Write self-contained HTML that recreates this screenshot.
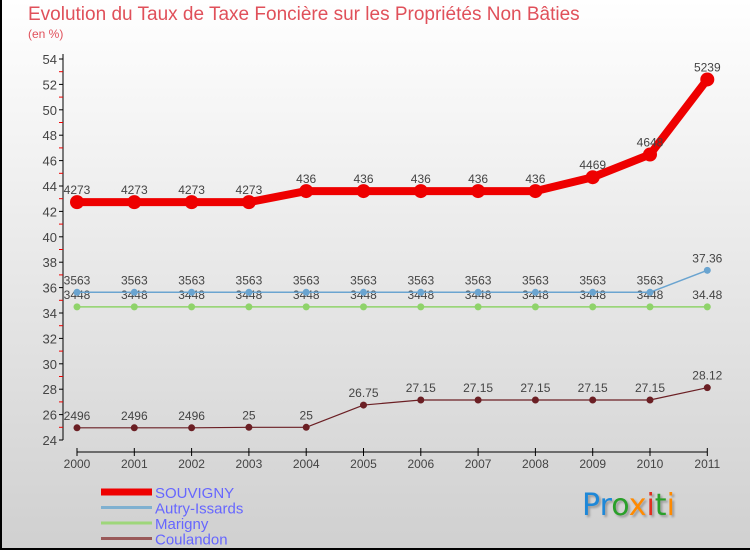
<!DOCTYPE html>
<html><head><meta charset="utf-8"><style>
body{margin:0}
#c{width:750px;height:550px;position:relative;background:linear-gradient(#ffffff,#d0d0d0);border-left:2px solid #000;border-bottom:2px solid #000;box-sizing:border-box;font-family:"Liberation Sans",sans-serif;overflow:hidden}
</style></head><body>
<div id="c">
<div style="position:absolute;left:26px;top:4px;font-size:19px;color:#e0505a">Evolution du Taux de Taxe Foncière sur les Propriétés Non Bâties</div>
<div style="position:absolute;left:26px;top:27px;font-size:12px;color:#e0505a">(en %)</div>
<svg id="s" width="750" height="550" style="position:absolute;left:-2px;top:0" font-family="Liberation Sans, sans-serif"></svg>
<div style="position:absolute;left:580px;top:488px;font-size:30px;font-family:'DejaVu Sans',sans-serif;text-shadow:2px 2px 2px #999"><span style="color:#1e88d8">Pr</span><span style="color:#2aa02a">o</span><span style="color:#ff8a00">x</span><span style="color:#e03020">i</span><span style="color:#2aa02a">t</span><span style="color:#ff8a00">i</span></div>
</div>
<script>
const years=["2000","2001","2002","2003","2004","2005","2006","2007","2008","2009","2010","2011"];
const souvigny=[42.73,42.73,42.73,42.73,43.6,43.6,43.6,43.6,43.6,44.69,46.48,52.39];
const souvignyLbl=["4273","4273","4273","4273","436","436","436","436","436","4469","4648","5239"];
const autry=[35.63,35.63,35.63,35.63,35.63,35.63,35.63,35.63,35.63,35.63,35.63,37.36];
const autryLbl=["3563","3563","3563","3563","3563","3563","3563","3563","3563","3563","3563","37.36"];
const marigny=[34.48,34.48,34.48,34.48,34.48,34.48,34.48,34.48,34.48,34.48,34.48,34.48];
const marignyLbl=["3448","3448","3448","3448","3448","3448","3448","3448","3448","3448","3448","34.48"];
const coulandon=[24.96,24.96,24.96,25,25,26.75,27.15,27.15,27.15,27.15,27.15,28.12];
const coulandonLbl=["2496","2496","2496","25","25","26.75","27.15","27.15","27.15","27.15","27.15","28.12"];
const yTicks=[24,26,28,30,32,34,36,38,40,42,44,46,48,50,52,54];
const legendNames=["SOUVIGNY","Autry-Issards","Marigny","Coulandon"];
const s=document.getElementById('s'),NS='http://www.w3.org/2000/svg';
const X=i=>77+i*57.3, Y=v=>440-(v-24)*12.7;
function el(t,a,p){const e=document.createElementNS(NS,t);for(const k in a)e.setAttribute(k,a[k]);(p||s).appendChild(e);return e;}
let ax=el('line',{x1:63,y1:54,x2:63,y2:440,stroke:'#000'});


yTicks.forEach(v=>{el('line',{x1:59,x2:63,y1:Y(v),y2:Y(v),stroke:'#000'});
if(v<54)el('line',{x1:59,x2:63,y1:Y(v+1),y2:Y(v+1),stroke:'#e00'});
const t=el('text',{x:57,y:Y(v)+5,'text-anchor':'end','font-size':13,fill:'#444'});t.textContent=v;

});
let xa=el('line',{x1:X(0),y1:452,x2:X(11),y2:452,stroke:'#000'});


years.forEach((y,i)=>{el('line',{x1:X(i),x2:X(i),y1:448,y2:456,stroke:'#000'});
const t=el('text',{x:X(i),y:468,'text-anchor':'middle','font-size':12,fill:'#444'});t.textContent=y;

});
function series(vals,lbls,color,w,r,name){
const g=el('g',{});


el('polyline',{points:vals.map((v,i)=>X(i)+','+Y(v)).join(' '),fill:'none',stroke:color,'stroke-width':w,'stroke-linejoin':'round'},g);
vals.forEach((v,i)=>{const c=el('circle',{cx:X(i),cy:Y(v),r:r,fill:color},g);


const t=el('text',{x:X(i),y:Y(v)-8,'text-anchor':'middle','font-size':12,fill:'#444'},g);t.textContent=lbls[i];});}
series(coulandon,coulandonLbl,'#6b1f24',1.2,3.5,'coulandon-series');
series(marigny,marignyLbl,'#8fd36a',1.5,3.5,'marigny-series');
series(autry,autryLbl,'#6aa4d0',1.5,3.5,'autry-issards-series');
series(souvigny,souvignyLbl,'#ee0000',8,7,'souvigny-series');
const lc=['#ee0000','#7fb0d0','#9ed67a','#9a5a5a'],lw=[7,3,3,3];
legendNames.forEach((n,i)=>{const y=492+i*15.5;
el('line',{x1:101,x2:152,y1:y,y2:y,stroke:lc[i],'stroke-width':lw[i]});
const t=el('text',{x:155,y:y+6,'font-size':15,fill:'#6666ff'});t.textContent=n;

});
</script>
</body></html>
